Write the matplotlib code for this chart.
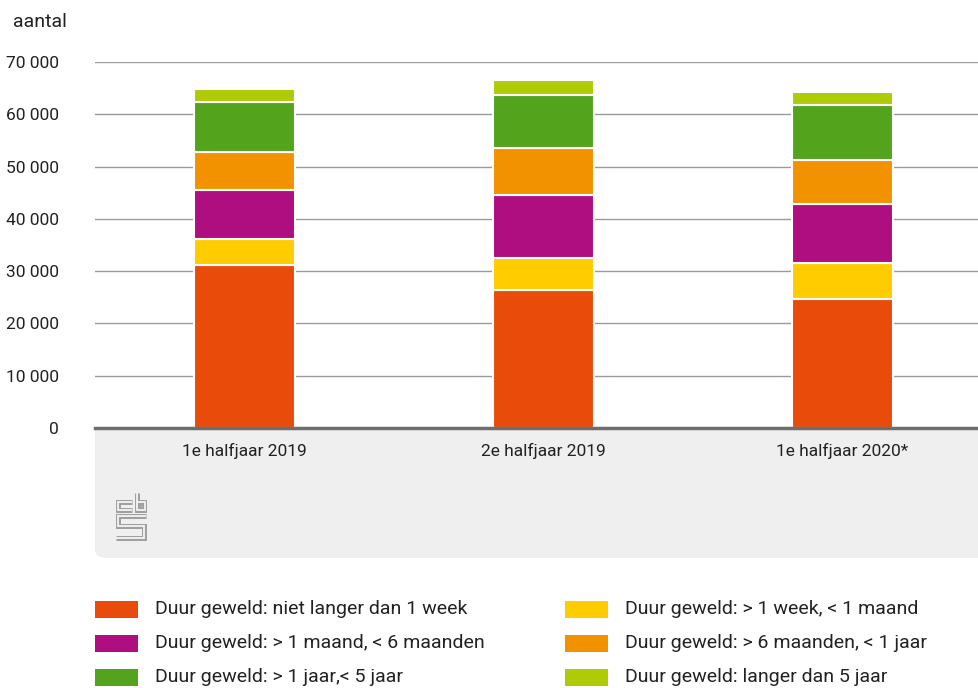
"""Duur geweld per halfjaar, gestapelde staafgrafiek (CBS-stijl)."""
import matplotlib
matplotlib.use("Agg")
import matplotlib.pyplot as plt
import numpy as np
from matplotlib.patches import FancyBboxPatch, Rectangle
from matplotlib.ticker import FuncFormatter

plt.rcParams["font.family"] = ["Roboto", "DejaVu Sans"]

# gegevens
categorieen = ["1e halfjaar 2019", "2e halfjaar 2019", "1e halfjaar 2020*"]
niet_langer_1_week = [31170, 26330, 24670]
week_tot_maand = [4900, 6230, 6820]
maand_tot_6_maanden = [9400, 11950, 11340]
zes_maanden_tot_jaar = [7400, 9050, 8350]
jaar_tot_5_jaar = [9400, 10060, 10580]
langer_dan_5_jaar = [2650, 2880, 2480]

reeksen = [
    ("Duur geweld: niet langer dan 1 week", niet_langer_1_week, "#e94c0a"),
    ("Duur geweld: > 1 week, < 1 maand", week_tot_maand, "#ffcc00"),
    ("Duur geweld: > 1 maand, < 6 maanden", maand_tot_6_maanden, "#af0e80"),
    ("Duur geweld: > 6 maanden, < 1 jaar", zes_maanden_tot_jaar, "#f39200"),
    ("Duur geweld: > 1 jaar,< 5 jaar", jaar_tot_5_jaar, "#53a31d"),
    ("Duur geweld: langer dan 5 jaar", langer_dan_5_jaar, "#afcb05"),
]

W, H = 979, 688
PANEEL = "#efefef"
fig = plt.figure(figsize=(W / 100, H / 100), dpi=100)


def fx(px):
    return px / W


def fy(py):
    return 1 - py / H


# grijs paneel onder de as (alleen linksonder afgerond)
paneel = FancyBboxPatch((fx(95), fy(558)), fx(1000) - fx(95), fy(428) - fy(558),
                        boxstyle="round,pad=0,rounding_size=0.012",
                        transform=fig.transFigure, facecolor=PANEEL,
                        edgecolor="none", zorder=-2)
fig.patches.append(paneel)
fig.patches.append(Rectangle((fx(95), fy(480)), fx(1000) - fx(95), fy(428) - fy(480),
                             transform=fig.transFigure, facecolor=PANEEL,
                             edgecolor="none", zorder=-2))

ax = fig.add_axes([fx(95), fy(428), fx(897), fy(62) - fy(428)])
ax.set_facecolor("none")

x = np.arange(len(categorieen))
bodem = np.zeros(len(categorieen))
for label, waarden, kleur in reeksen:
    ax.bar(x, waarden, bottom=bodem, width=0.335, color=kleur,
           edgecolor="white", linewidth=1.5, zorder=3)
    bodem += np.array(waarden)

ax.set_xlim(-0.5, 2.5)
ax.set_ylim(0, 70000)
ax.set_yticks(np.arange(0, 70001, 10000))
ax.yaxis.set_major_formatter(FuncFormatter(lambda v, p: f"{int(v):,}".replace(",", " ")))
ax.grid(axis="y", color="#9a9a9a", linewidth=1, zorder=0)
ax.set_axisbelow(True)
for s in ax.spines.values():
    s.set_visible(False)
ax.axhline(0, color="#6e6e6e", linewidth=2.5, zorder=4, clip_on=False)

ax.set_xticks(x)
ax.set_xticklabels(categorieen)
ax.tick_params(axis="x", length=0, pad=11, labelsize=12.5, labelcolor="#222222")
ax.tick_params(axis="y", length=0, pad=26, labelsize=12.5, labelcolor="#222222")

fig.text(fx(13), fy(22), "aantal", fontsize=14, color="#222222",
         ha="left", va="center")

# cbs-logo, vereenvoudigd: grijze streep met lichte kern geeft de omlijning
logo = fig.add_axes([fx(114), fy(541), fx(33), fy(491) - fy(541)])
logo.set_xlim(-0.6, 9.6)
logo.set_ylim(-0.4, 14.6)
logo.axis("off")
paden = [
    ([5, 0.5, 0.5, 5], [11.2, 11.2, 8.8, 8.8]),                 # c
    ([6.6, 6.6, 8.9, 8.9, 6.6], [14, 8.8, 8.8, 11.2, 11.2]),    # b
    ([9.2, 0.5, 0.5, 8.6, 8.6, 0], [7, 7, 4, 4, 0.6, 0.6]),    # s
]
for px_, py_ in paden:
    logo.plot(px_, py_, color="#a0a0a0", linewidth=3.6, solid_capstyle="butt",
              solid_joinstyle="miter")
    logo.plot(px_, py_, color=PANEEL, linewidth=1.4, solid_capstyle="butt",
              solid_joinstyle="miter")
logo.plot([7.3, 8.2, 8.2, 7.3, 7.3], [9.5, 9.5, 10.5, 10.5, 9.5],
          color="#a0a0a0", linewidth=1.2)

# legenda
plaatsen = [(0, 0), (1, 0), (0, 1), (1, 1), (0, 2), (1, 2)]
for (label, _, kleur), (kol, rij) in zip(reeksen, plaatsen):
    x0 = 95 if kol == 0 else 565
    yc = 609 + rij * 34
    fig.patches.append(Rectangle((fx(x0), fy(yc + 8.5)), fx(43), fy(yc - 8.5) - fy(yc + 8.5),
                                 transform=fig.transFigure, facecolor=kleur,
                                 edgecolor="none"))
    fig.text(fx(x0 + 60), fy(yc), label, fontsize=14, color="#222222",
             ha="left", va="center")

fig.savefig("out.png", dpi=100)
